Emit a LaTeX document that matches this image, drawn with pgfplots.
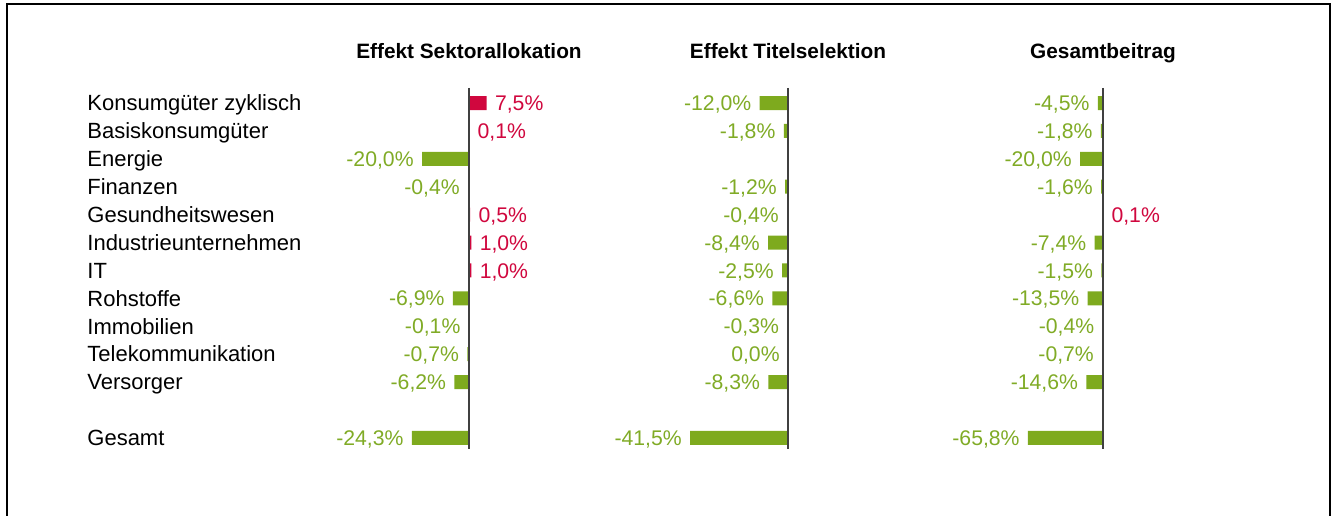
\documentclass[border=0pt]{standalone}
\usepackage{pgfplots}
\pgfplotsset{compat=1.18}
\usepackage{pgfplotstable}
\usepackage{fontspec}
\setmainfont{Liberation Sans}
\definecolor{cgreen}{HTML}{7EAA1E}
\definecolor{cred}{HTML}{D0073E}
\definecolor{tgreen}{HTML}{80AB26}
\newcommand\catfont{\fontsize{11}{13}\selectfont}
\newcommand\numfont{\fontsize{10.6}{12}\selectfont}
\newcommand\titfont{\fontsize{10.4}{12}\selectfont\bfseries}

% Effekt Sektorallokation
\pgfplotstableread{
y x label
3 -20.0 -20,0
4 -0.4 -0,4
8 -6.9 -6,9
9 -0.1 -0,1
10 -0.7 -0,7
11 -6.2 -6,2
13 -24.3 -24,3
}\SekNeg
\pgfplotstableread{
y x label
1 7.5 7,5
2 0.1 0,1
5 0.5 0,5
6 1.0 1,0
7 1.0 1,0
}\SekPos
% Effekt Titelselektion
\pgfplotstableread{
y x label
1 -12.0 -12,0
2 -1.8 -1,8
4 -1.2 -1,2
5 -0.4 -0,4
6 -8.4 -8,4
7 -2.5 -2,5
8 -6.6 -6,6
9 -0.3 -0,3
10 0.0 0,0
11 -8.3 -8,3
13 -41.5 -41,5
}\TitNeg
% Gesamtbeitrag
\pgfplotstableread{
y x label
1 -4.5 -4,5
2 -1.8 -1,8
3 -20.0 -20,0
4 -1.6 -1,6
6 -7.4 -7,4
7 -1.5 -1,5
8 -13.5 -13,5
9 -0.4 -0,4
10 -0.7 -0,7
11 -14.6 -14,6
13 -65.8 -65,8
}\GesNeg
\pgfplotstableread{
y x label
5 0.1 0,1
}\GesPos

\pgfplotsset{
  panel/.style={
    anchor=origin, y dir=reverse, y=13.95pt,
    ymin=0, ymax=14, clip=false,
    axis line style={draw=none}, major tick length=0pt,
    xtick=\empty, ytick=\empty,
    xbar, bar width=7pt,
  },
  negbars/.style={fill=cgreen, draw=none, bar shift=0pt,
    point meta=explicit symbolic,
    nodes near coords={\pgfplotspointmeta\%},
    every node near coord/.style={anchor=base east, xshift=-4pt, yshift=-3.8pt, inner sep=0pt, text=tgreen, font=\numfont}},
  posbars/.style={fill=cred, draw=none, bar shift=0pt,
    point meta=explicit symbolic,
    nodes near coords={\pgfplotspointmeta\%},
    every node near coord/.style={anchor=base west, xshift=4pt, yshift=-3.8pt, inner sep=0pt, text=cred, font=\numfont}},
}

\begin{document}
\begin{tikzpicture}
\useasboundingbox (0,0) rectangle (668pt,-257.5pt);
\draw[line width=1pt] (3.6pt,-262pt) -- (3.6pt,-2.2pt) -- (665pt,-2.2pt) -- (665pt,-262pt);

% Panel 1
\begin{axis}[panel, at={(234.5pt,-37.55pt)}, x=1.175pt, xmin=-162.55, xmax=12,
  ytick={1,2,3,4,5,6,7,8,9,10,11,13},
  yticklabels={Konsumgüter zyklisch,Basiskonsumgüter,Energie,Finanzen,Gesundheitswesen,Industrieunternehmen,IT,Rohstoffe,Immobilien,Telekommunikation,Versorger,Gesamt},
  yticklabel style={anchor=base west, inner sep=0pt, yshift=-3.9pt, font=\catfont}]
\addplot[negbars] table[x=x, y=y, meta=label] {\SekNeg};
\addplot[posbars] table[x=x, y=y, meta=label] {\SekPos};
\draw[black!75, line width=0.6pt] (axis cs:0,0.46) -- (axis cs:0,13.4);
\node[font=\titfont, anchor=base] at (axis cs:0,-0.595) {Effekt Sektorallokation};
\end{axis}

% Panel 2
\begin{axis}[panel, at={(394pt,-37.55pt)}, x=1.18pt, xmin=-50, xmax=12]
\addplot[negbars] table[x=x, y=y, meta=label] {\TitNeg};
\draw[black!75, line width=0.6pt] (axis cs:0,0.46) -- (axis cs:0,13.4);
\node[font=\titfont, anchor=base] at (axis cs:0,-0.595) {Effekt Titelselektion};
\end{axis}

% Panel 3
\begin{axis}[panel, at={(551.5pt,-37.55pt)}, x=0.57pt, xmin=-80, xmax=20]
\addplot[negbars] table[x=x, y=y, meta=label] {\GesNeg};
\addplot[posbars] table[x=x, y=y, meta=label] {\GesPos};
\draw[black!75, line width=0.6pt] (axis cs:0,0.46) -- (axis cs:0,13.4);
\node[font=\titfont, anchor=base] at (axis cs:0,-0.595) {Gesamtbeitrag};
\end{axis}
\end{tikzpicture}
\end{document}
